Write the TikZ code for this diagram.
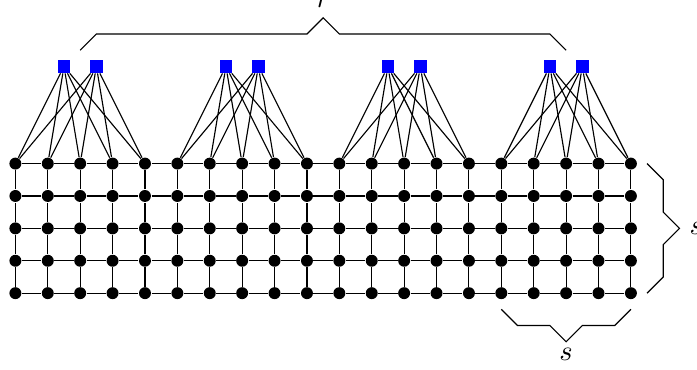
\documentclass[tikz,border=0pt]{standalone}
\usepackage{amssymb}
\usepackage{amsmath}
\usepackage{tikz}

\begin{document}
\begin{tikzpicture}[x=0.4cm, y=0.4cm,
			dot/.style={circle, fill, inner sep=0pt, minimum size=4.2pt},
			hub/.style={rectangle, fill=blue, inner sep=0pt, minimum size=4.5pt}]
			\useasboundingbox (-0.475,-2.37) rectangle (21.04,9.05);
			
			\foreach \i in {0,...,19}
				\foreach \j in {0,...,4}
					\node(v\i-\j) [dot] at (\i,\j){};
			
			\foreach \g in {0,...,3}{
				\node(h\g-0) [hub] at (5*\g+1.5,7){};
				\node(h\g-1) [hub] at (5*\g+2.5,7){};
			}
			
			\foreach \i in {0,...,18}{
				\pgfmathtruncatemacro\k{\i+1}
				\foreach \j in {0,...,4}
					\draw(v\i-\j)--(v\k-\j);
			}
			\foreach \i in {0,...,19}
				\foreach \j in {0,...,3}{
					\pgfmathtruncatemacro\k{\j+1}
					\draw(v\i-\j)--(v\i-\k);
				}
			
			\foreach \g in {0,...,3}
				\foreach \h in {0,1}
					\foreach \c in {0,...,4}{
						\pgfmathtruncatemacro\i{5*\g+\c}
						\draw(h\g-\h)--(v\i-4);
					}
			
			\draw (2,7.5)--(2.5,8)--(9,8)--(9.5,8.5) node(rlab)[above]{$r$}--(10,8)--(16.5,8)--(17,7.5);
			\draw (19.5,4)--(20,3.5)--(20,2.5)--(20.5,2) node(sright)[right]{$s$}--(20,1.5)--(20,0.5)--(19.5,0);
			\draw (15,-0.5)--(15.5,-1)--(16.5,-1)--(17,-1.5) node(sbottom)[below, inner sep=2pt]{$s$}--(17.5,-1)--(18.5,-1)--(19,-0.5);
			
		\end{tikzpicture}
\end{document}
